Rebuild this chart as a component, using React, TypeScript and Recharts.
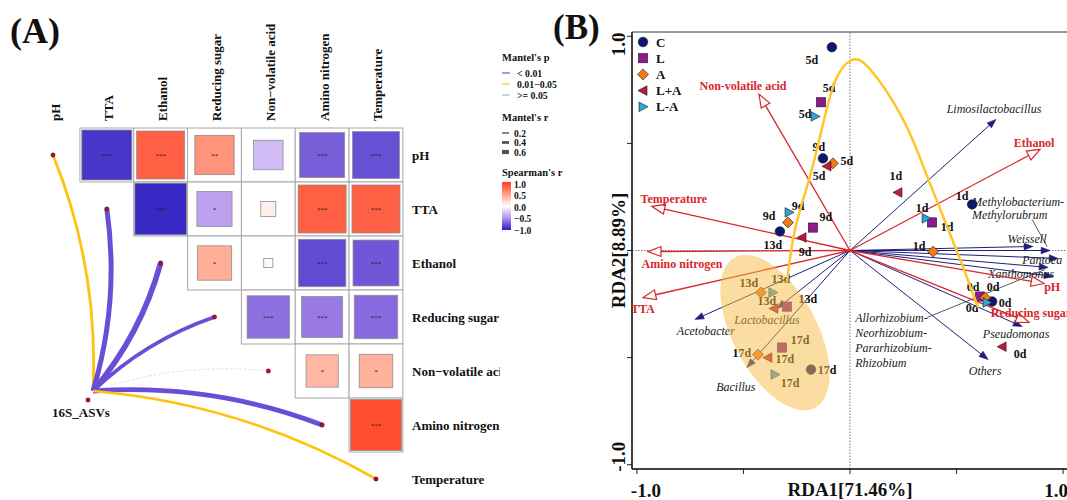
import React from 'react';
import { ScatterChart, Scatter, XAxis, YAxis, ReferenceLine, ReferenceArea, Legend } from 'recharts';

const SERIF = '"Liberation Serif", "Times New Roman", serif';

// ---------- Panel A: Mantel test + Spearman matrix ----------
const VARS = ['pH', 'TTA', 'Ethanol', 'Reducing sugar', 'Non\u2212volatile acid', 'Amino nitrogen', 'Temperature'];

// upper triangle, row i against columns i+1..6
const SPEARMAN_R = [
  [-0.89, 0.82, 0.55, -0.31, -0.72, -0.78],
  [-0.95, -0.44, 0.08, 0.82, 0.82],
  [0.42, 0.03, -0.8, -0.75],
  [-0.64, -0.6, -0.67],
  [0.37, 0.4],
  [0.92],
];
const SPEARMAN_SIG = [
  ['***', '***', '**', '', '***', '***'],
  ['***', '*', '', '***', '***'],
  ['*', '', '***', '***'],
  ['***', '***', '***'],
  ['*', '*'],
  ['***'],
];

const MANTEL_R = [0.28, 0.5, 0.56, 0.38, 0.02, 0.48, 0.26];
const MANTEL_P = ['0.01-0.05', '<0.01', '<0.01', '<0.01', '>=0.05', '<0.01', '0.01-0.05'];

const P_LEVELS = ['<0.01', '0.01-0.05', '>=0.05'];
const P_LABELS = ['< 0.01', '0.01\u22120.05', '>= 0.05'];
const R_KEYS = [0.2, 0.4, 0.6];
const SPEAR_TICKS = [1, 0.5, 0, -0.5, -1];

// ---------- Panel B: RDA ----------
const GROUPS = ['C', 'L', 'A', 'L+A', 'L-A'];
const DAYS = ['0d', '1d', '5d', '9d', '13d', '17d'];
const RDA1: Record<string, number[]> = {
  C: [0.667, 0.573, -0.085, -0.127, -0.329, -0.183],
  L: [0.61, 0.385, -0.136, -0.174, -0.296, -0.319],
  A: [0.634, 0.39, -0.08, -0.291, -0.418, -0.432],
  'L+A': [0.714, 0.225, -0.108, -0.225, -0.357, -0.385],
  'L-A': [0.643, 0.357, -0.164, -0.286, -0.362, -0.352],
};
const RDA2: Record<string, number[]> = {
  C: [-0.238, 0.215, 0.949, 0.43, 0.089, -0.556],
  L: [-0.215, 0.131, 0.692, 0.107, -0.262, -0.453],
  A: [-0.22, -0.005, 0.407, 0.131, -0.196, -0.486],
  'L+A': [-0.449, 0.271, 0.393, 0.061, -0.271, -0.5],
  'L-A': [-0.243, 0.15, 0.626, 0.178, -0.196, -0.579],
};

const ENV_NAMES = ['Non-volatile acid', 'Temperature', 'Amino nitrogen', 'TTA', 'Ethanol', 'pH', 'Reducing sugar'];
const ENV_RDA1 = [-0.427, -0.93, -0.948, -0.972, 0.892, 0.911, 0.84];
const ENV_RDA2 = [0.729, 0.206, -0.005, -0.22, 0.472, -0.154, -0.336];

const TAXA = [
  'Limosilactobacillus', 'Methylobacterium-Methylorubrum', 'Weissell', 'Pantoea', 'Xanthomonas',
  'Allorhizobium-Neorhizobium-Pararhizobium-Rhizobium', 'Pseudomonas', 'Others', 'Lactobacillus', 'Acetobacter', 'Bacillus',
];
const TAXA_RDA1 = [0.685, 0.939, 0.859, 0.977, 0.953, 0.93, 0.808, 0.648, -0.343, -0.728, -0.484];
const TAXA_RDA2 = [0.612, 0.0, 0.019, -0.037, -0.121, -0.079, -0.355, -0.509, -0.271, -0.322, -0.547];

// trajectory 13d -> 0d
const TRAJ_X = [-0.296, -0.258, -0.188, -0.127, -0.066, 0.005, 0.094, 0.249, 0.362, 0.493, 0.601];
const TRAJ_Y = [-0.15, 0.098, 0.346, 0.589, 0.799, 0.888, 0.846, 0.612, 0.346, 0.019, -0.266];

// late-stage cluster ellipse: center, end of major axis, end of minor axis
const ELLIPSE_X = [-0.352, -0.164, -0.178];
const ELLIPSE_Y = [-0.383, -0.734, -0.29];

// ---------- styles ----------
const P_COLOR: Record<string, string> = { '<0.01': '#6a4fd6', '0.01-0.05': '#ffc20e', '>=0.05': '#8fc7b8' };
const GROUP_COLOR: Record<string, string> = { C: '#0c176e', L: '#8e1a8e', A: '#ef7a16', 'L+A': '#c2183a', 'L-A': '#2ca6d8' };
const GROUP_SHAPE: Record<string, string> = { C: 'circle', L: 'square', A: 'diamond', 'L+A': 'left', 'L-A': 'right' };
const ENV_COLOR = '#d8262b';
const TAXA_COLOR = '#1f1f7a';

// day label offsets (px) per group, same order as DAYS
const DAY_LABEL_OFFSET: Record<string, number[][]> = {
  C: [[13, 2], [-10, -8], [-20, 13], [-4, -11], [-7, 14], [16, 0]],
  L: [[-7, -10], [15, 5], [8, -14], [13, -11], [21, -8], [18, -8]],
  A: [[8, -11], [-14, -6], [14, -2], [-19, -6], [-12, -9], [-16, -2]],
  'L+A': [[18, 7], [-2, -16], [-8, 10], [3, 15], [-7, -8], [17, 1]],
  'L-A': [[-15, 5], [-4, -10], [-10, -2], [9, -6], [8, -13], [15, 8]],
};

const ENV_LABEL: Record<string, number[]> = {
  'Non-volatile acid': [-16, -8],
  Temperature: [22, -7],
  'Amino nitrogen': [34, 12],
  TTA: [0, 11],
  Ethanol: [-6, -6],
  pH: [8, 4],
  'Reducing sugar': [2, -9],
};

type TaxLabel = { lines: string[]; dx: number; dy: number; step?: number; anchor?: string; leader?: number[] };
const TAXA_LABEL: Record<string, TaxLabel> = {
  Limosilactobacillus: { lines: ['Limosilactobacillus'], dx: -2, dy: -10 },
  'Methylobacterium-Methylorubrum': {
    lines: ['Methylobacterium-', 'Methylorubrum'], dx: -78, dy: -49, step: 13, anchor: 'start', leader: [-18, -31, -3, -4],
  },
  Weissell: { lines: ['Weissell'], dx: -6, dy: -7 },
  Pantoea: { lines: ['Pantoea'], dx: -16, dy: 2 },
  Xanthomonas: { lines: ['Xanthomonas'], dx: -32, dy: -2 },
  'Allorhizobium-Neorhizobium-Pararhizobium-Rhizobium': {
    lines: ['Allorhizobium-', 'Neorhizobium-', 'Pararhizobium-', 'Rhizobium'], dx: -193, dy: 51, step: 14.7, anchor: 'start',
    leader: [-121, 50, -3, 2],
  },
  Pseudomonas: { lines: ['Pseudomonas'], dx: -6, dy: 7 },
  Others: { lines: ['Others'], dx: -3, dy: 11 },
  Lactobacillus: { lines: ['Lactobacillus'], dx: -10, dy: 11 },
  Acetobacter: { lines: ['Acetobacter'], dx: 11, dy: 12 },
  Bacillus: { lines: ['Bacillus'], dx: -11, dy: 19 },
};

// ---------- helpers ----------
const R_STOPS: [number, string][] = [[-1, '#2a1cbf'], [-0.5, '#b592ee'], [0, '#ffffff'], [0.5, '#ff9e84'], [1, '#ff3d1f']];
function hex(c: string) {
  return [1, 3, 5].map((i) => parseInt(c.slice(i, i + 2), 16));
}
function spearColor(r: number) {
  for (let i = 0; i < R_STOPS.length - 1; i++) {
    const [a, ca] = R_STOPS[i];
    const [b, cb] = R_STOPS[i + 1];
    if (r >= a && r <= b) {
      const t = (r - a) / (b - a);
      const A = hex(ca), B = hex(cb);
      return `rgb(${A.map((v, k) => Math.round(v + (B[k] - v) * t)).join(',')})`;
    }
  }
  return r < 0 ? R_STOPS[0][1] : R_STOPS[R_STOPS.length - 1][1];
}
const mantelWidth = (r: number) => Math.max(r * 10, 0.7);

// panel A geometry: one matrix cell per unit
const A_W = 500, A_H = 500;
const COL_PX = 53.83, ROW_PX = 54, COL0 = 53, ROW0 = 155;
const ax = (px: number) => (px - COL0) / COL_PX;
const ay = (px: number) => (px - ROW0) / ROW_PX;
const A_XDOM = [ax(0), ax(A_W)];
const A_YDOM = [ay(0), ay(A_H)];
const HUB = { x: ax(93), y: ay(391) };
const HUB_DOT = { x: ax(88), y: ay(400) };

const cells: { x: number; y: number; r: number; sig: string }[] = [];
SPEARMAN_R.forEach((row, i) =>
  row.forEach((r, k) => cells.push({ x: i + 1 + k, y: i, r, sig: SPEARMAN_SIG[i][k] }))
);
const colLabels = VARS.map((v, i) => ({ x: i, y: ay(121), name: v }));
const rowLabels = VARS.map((v, i) => ({ x: ax(412), y: i, name: v }));

const B_XDOM = [-1.023, 1.023];
const B_YDOM = [-1.02, 1.02];
const B_TICKS = [-1, -0.5, 0, 0.5, 1];

const Empty = () => <g />;

const CellShape = (p: any) => {
  const { cx, cy, payload } = p;
  const s = Math.sqrt(Math.abs(payload.r)) * (ROW_PX - 1);
  return (
    <g>
      <rect x={cx - COL_PX / 2} y={cy - ROW_PX / 2} width={COL_PX} height={ROW_PX} fill="#fff" stroke="#a8a8a8" strokeWidth={1} />
      <rect x={cx - s / 2} y={cy - s / 2} width={s} height={s} fill={spearColor(payload.r)} stroke="#8e8e8e" strokeWidth={0.8} />
      {payload.sig ? (
        <text x={cx} y={cy + 3} textAnchor="middle" fontSize={7} fill="#222" fontFamily={SERIF}>
          {payload.sig}
        </text>
      ) : null}
    </g>
  );
};

function linkRenderer(i: number) {
  return (p: any) => {
    const pts = p.points;
    if (!pts || pts.length < 2) return <g />;
    const a = pts[0], b = pts[1];
    const dx = b.x - a.x, dy = b.y - a.y;
    const len = Math.hypot(dx, dy) || 1;
    let nx = -dy / len, ny = dx / len;
    // curves bow toward the matrix (up / right)
    if (nx - ny < 0) { nx = -nx; ny = -ny; }
    const k = 0.11 * len;
    const qx = (a.x + b.x) / 2 + nx * k, qy = (a.y + b.y) / 2 + ny * k;
    const lvl = MANTEL_P[i];
    const weak = lvl === '>=0.05';
    return (
      <path
        d={`M${a.x},${a.y}Q${qx},${qy} ${b.x},${b.y}`}
        fill="none"
        stroke={weak ? '#c9d2d0' : P_COLOR[lvl]}
        strokeWidth={mantelWidth(MANTEL_R[i])}
        strokeDasharray={weak ? '2.5 2' : undefined}
      />
    );
  };
}

const EndDot = (p: any) =>
  p.payload.end ? <circle cx={p.cx} cy={p.cy} r={2.2} fill="#a3103c" stroke="#5a0a20" strokeWidth={0.4} /> : <g />;

const HubShape = (p: any) => (
  <g>
    <circle cx={p.cx} cy={p.cy} r={2.2} fill="#a3103c" stroke="#5a0a20" strokeWidth={0.4} />
    <text x={p.cx - 7} y={p.cy + 17} textAnchor="middle" fontSize={13} fontWeight="bold" fontFamily={SERIF} fill="#111">
      16S_ASVs
    </text>
  </g>
);

const ColLabel = (p: any) => {
  const x = p.cx + 6.5, y = p.cy;
  return (
    <text x={x} y={y} transform={`rotate(-90 ${x} ${y})`} textAnchor="start" fontSize={13} fontWeight="bold" fontFamily={SERIF} fill="#111">
      {p.payload.name}
    </text>
  );
};
const RowLabel = (p: any) => (
  <text x={p.cx} y={p.cy + 4.5} textAnchor="start" fontSize={13} fontWeight="bold" fontFamily={SERIF} fill="#111">
    {p.payload.name}
  </text>
);

function MantelLegend() {
  const t = { fontFamily: SERIF, fontWeight: 'bold' as const, fill: '#111' };
  return (
    <svg width={80} height={190}>
      <defs>
        <linearGradient id="spearBar" x1="0" y1="0" x2="0" y2="1">
          {SPEAR_TICKS.map((v, i) => (
            <stop key={v} offset={i / (SPEAR_TICKS.length - 1)} stopColor={spearColor(v)} />
          ))}
        </linearGradient>
      </defs>
      <text x={4} y={13} fontSize={10.5} {...t}>Mantel's p</text>
      {P_LEVELS.map((lvl, i) => (
        <g key={lvl}>
          <line x1={4} x2={12} y1={25 + i * 11} y2={25 + i * 11} stroke={P_COLOR[lvl]} strokeWidth={1.2} />
          <text x={19} y={28.5 + i * 11} fontSize={9.8} {...t}>{P_LABELS[i]}</text>
        </g>
      ))}
      <text x={4} y={73} fontSize={10.5} {...t}>Mantel's r</text>
      {R_KEYS.map((r, i) => {
        const h = mantelWidth(r) * 0.7;
        return (
          <g key={r}>
            <rect x={4} y={85 + i * 9.5 - h / 2} width={7} height={h} fill="#555" />
            <text x={16} y={88.5 + i * 9.5} fontSize={9.5} {...t}>{r.toFixed(1)}</text>
          </g>
        );
      })}
      <text x={4} y={128} fontSize={10.5} {...t}>Spearman's r</text>
      <rect x={4} y={134} width={9} height={48} fill="url(#spearBar)" />
      {SPEAR_TICKS.map((v, i) => (
        <text key={v} x={16} y={139.5 + i * 11.5} fontSize={9.5} {...t}>
          {v.toFixed(1).replace('-', '\u2212')}
        </text>
      ))}
    </svg>
  );
}

// ---------- panel B renderers ----------
function Marker({ group, cx, cy }: { group: string; cx: number; cy: number }) {
  const st = { fill: GROUP_COLOR[group], stroke: '#1a1a1a', strokeWidth: 0.6 };
  switch (GROUP_SHAPE[group]) {
    case 'circle':
      return <circle cx={cx} cy={cy} r={4.8} {...st} />;
    case 'square':
      return <rect x={cx - 4.6} y={cy - 4.6} width={9.2} height={9.2} {...st} />;
    case 'diamond':
      return <polygon points={`${cx},${cy - 5.5} ${cx + 5.5},${cy} ${cx},${cy + 5.5} ${cx - 5.5},${cy}`} {...st} />;
    case 'left':
      return <polygon points={`${cx - 5},${cy} ${cx + 4},${cy - 4.8} ${cx + 4},${cy + 4.8}`} {...st} />;
    default:
      return <polygon points={`${cx + 5},${cy} ${cx - 4},${cy - 4.8} ${cx - 4},${cy + 4.8}`} {...st} />;
  }
}

const pointShape = (g: string) => (p: any) => {
  const { cx, cy, payload } = p;
  const off = DAY_LABEL_OFFSET[g][payload.idx];
  return (
    <g>
      <Marker group={g} cx={cx} cy={cy} />
      <text x={cx + off[0]} y={cy + off[1]} textAnchor="middle" dominantBaseline="central" fontSize={12} fontWeight="bold" fontFamily={SERIF} fill="#111">
        {payload.day}
      </text>
    </g>
  );
};

function arrowRenderer(kind: 'env' | 'taxon', name: string) {
  return (p: any) => {
    const pts = p.points;
    if (!pts || pts.length < 2) return <g />;
    const o = pts[0], t = pts[1];
    const dx = t.x - o.x, dy = t.y - o.y;
    const len = Math.hypot(dx, dy) || 1;
    const ux = dx / len, uy = dy / len;
    const env = kind === 'env';
    const hl = env ? 13 : 9, hw = env ? 5 : 3.3;
    const bx = t.x - ux * hl, by = t.y - uy * hl;
    const head = `${t.x},${t.y} ${bx - uy * hw},${by + ux * hw} ${bx + uy * hw},${by - ux * hw}`;
    const color = env ? ENV_COLOR : TAXA_COLOR;
    let label: React.ReactNode = null;
    if (env) {
      const off = ENV_LABEL[name];
      label = (
        <text x={t.x + off[0]} y={t.y + off[1]} textAnchor="middle" dominantBaseline="central" fontSize={12} fontWeight="bold" fontFamily={SERIF} fill={ENV_COLOR}>
          {name}
        </text>
      );
    } else {
      const L = TAXA_LABEL[name];
      label = (
        <g>
          {L.leader ? (
            <line x1={t.x + L.leader[0]} y1={t.y + L.leader[1]} x2={t.x + L.leader[2]} y2={t.y + L.leader[3]} stroke="#111" strokeWidth={0.7} />
          ) : null}
          {L.lines.map((s, i) => (
            <text key={s} x={t.x + L.dx} y={t.y + L.dy + i * (L.step || 0)} textAnchor={(L.anchor as any) || 'middle'} dominantBaseline="central" fontSize={12} fontStyle="italic" fontFamily={SERIF} fill="#1a1a1a">
              {s}
            </text>
          ))}
        </g>
      );
    }
    return (
      <g>
        <line x1={o.x} y1={o.y} x2={bx} y2={by} stroke={color} strokeWidth={env ? 1.3 : 1} />
        <polygon points={head} fill={env ? '#fff' : color} stroke={color} strokeWidth={env ? 1.2 : 0.6} />
        {label}
      </g>
    );
  };
}

const ellipseRenderer = (p: any) => {
  const pts = p.points;
  if (!pts || pts.length < 3) return <g />;
  const [c, a, b] = pts;
  const rx = Math.hypot(a.x - c.x, a.y - c.y);
  const ry = Math.hypot(b.x - c.x, b.y - c.y);
  const ang = (Math.atan2(a.y - c.y, a.x - c.x) * 180) / Math.PI;
  return <ellipse cx={c.x} cy={c.y} rx={rx} ry={ry} transform={`rotate(${ang} ${c.x} ${c.y})`} fill="#f7bb45" fillOpacity={0.5} stroke="none" />;
};

const XTick = (p: any) => {
  const { x, y, payload } = p;
  if (Math.abs(payload.value) !== 1) return <g />;
  const xx = payload.value < 0 ? x + 9 : x - 7;
  return (
    <text x={xx} y={y + 21} textAnchor="middle" fontSize={19} fontWeight="bold" fontFamily={SERIF} fill="#111">
      {payload.value.toFixed(1)}
    </text>
  );
};
const YTick = (p: any) => {
  const { x, y, payload } = p;
  if (Math.abs(payload.value) !== 1) return <g />;
  const yy = payload.value > 0 ? y + 8 : y - 8;
  return (
    <text x={x} y={yy} transform={`rotate(-90 ${x} ${yy})`} textAnchor="middle" fontSize={19} fontWeight="bold" fontFamily={SERIF} fill="#111">
      {payload.value.toFixed(1)}
    </text>
  );
};
const XTitle = (p: any) => {
  const vb = p.viewBox || {};
  const cx = (vb.x ?? 72) + (vb.width ?? 436) / 2;
  const y = (vb.y ?? 469) + 27;
  return (
    <text x={cx} y={y} textAnchor="middle" fontSize={19} fontWeight="bold" fontFamily={SERIF} fill="#111">
      RDA1[71.46%]
    </text>
  );
};
const YTitle = (p: any) => {
  const vb = p.viewBox || {};
  const x = (vb.x ?? 32) + (vb.width ?? 40) - 7;
  const y = (vb.y ?? 32) + (vb.height ?? 437) / 2;
  return (
    <text x={x} y={y} transform={`rotate(-90 ${x} ${y})`} textAnchor="middle" fontSize={19} fontWeight="bold" fontFamily={SERIF} fill="#111">
      RDA2[8.89%]
    </text>
  );
};

function GroupLegend() {
  return (
    <svg width={70} height={80}>
      {GROUPS.map((g, i) => (
        <g key={g}>
          <Marker group={g} cx={7} cy={8 + i * 16.2} />
          <text x={20} y={12.5 + i * 16.2} fontSize={13} fontWeight="bold" fontFamily={SERIF} fill="#111">
            {g}
          </text>
        </g>
      ))}
    </svg>
  );
}

export default function App() {
  const traj = TRAJ_X.map((x, i) => ({ x, y: TRAJ_Y[i] }));
  const ell = ELLIPSE_X.map((x, i) => ({ x, y: ELLIPSE_Y[i] }));
  return (
    <div style={{ position: 'absolute', left: 0, top: 0, width: 1067, height: 500, overflow: 'hidden', background: '#fff', fontFamily: SERIF }}>
      <div style={{ position: 'absolute', left: 0, top: 0 }}>
        <ScatterChart width={A_W} height={A_H} margin={{ top: 0, right: 0, bottom: 0, left: 0 }}>
          <XAxis type="number" dataKey="x" domain={A_XDOM} hide />
          <YAxis type="number" dataKey="y" domain={A_YDOM} reversed hide />
          {VARS.map((v, i) => (
            <Scatter
              key={v}
              data={[{ ...HUB, end: false }, { x: i, y: i, end: true }]}
              line={linkRenderer(i)}
              shape={EndDot}
              isAnimationActive={false}
            />
          ))}
          <Scatter data={[HUB_DOT]} shape={HubShape} isAnimationActive={false} />
          <Scatter data={cells} shape={CellShape} isAnimationActive={false} />
          <Scatter data={colLabels} shape={ColLabel} isAnimationActive={false} />
          <Scatter data={rowLabels} shape={RowLabel} isAnimationActive={false} />
          <Legend
            layout="vertical"
            align="center"
            verticalAlign="middle"
            content={<MantelLegend />}
            wrapperStyle={{ left: 498, top: 48, width: 80 }}
          />
        </ScatterChart>
      </div>

      <div style={{ position: 'absolute', left: 560, top: 0 }}>
        <ScatterChart width={520} height={500} margin={{ top: 32, right: 12, bottom: 0, left: 32 }}>
          <ReferenceArea x1={B_XDOM[0]} x2={B_XDOM[1]} y1={B_YDOM[0]} y2={B_YDOM[1]} fill="none" stroke="#333" strokeWidth={1} />
          <ReferenceLine x={0} stroke="#555" strokeWidth={0.8} strokeDasharray="1.5 1.5" />
          <ReferenceLine y={0} stroke="#555" strokeWidth={0.8} strokeDasharray="1.5 1.5" />
          <XAxis
            type="number"
            dataKey="x"
            domain={B_XDOM}
            ticks={B_TICKS}
            interval={0}
            tick={XTick}
            tickSize={5}
            tickLine={{ stroke: '#222' }}
            axisLine={{ stroke: '#222', strokeWidth: 1.5 }}
            height={31}
            label={XTitle}
          />
          <YAxis
            type="number"
            dataKey="y"
            domain={B_YDOM}
            ticks={B_TICKS}
            interval={0}
            tick={YTick}
            tickSize={5}
            tickLine={{ stroke: '#222' }}
            axisLine={{ stroke: '#222', strokeWidth: 1.5 }}
            width={40}
            label={YTitle}
          />
          {TAXA.map((n, i) => (
            <Scatter
              key={n}
              data={[{ x: 0, y: 0 }, { x: TAXA_RDA1[i], y: TAXA_RDA2[i] }]}
              line={arrowRenderer('taxon', n)}
              shape={Empty}
              isAnimationActive={false}
            />
          ))}
          {ENV_NAMES.map((n, i) => (
            <Scatter
              key={n}
              data={[{ x: 0, y: 0 }, { x: ENV_RDA1[i], y: ENV_RDA2[i] }]}
              line={arrowRenderer('env', n)}
              shape={Empty}
              isAnimationActive={false}
            />
          ))}
          {GROUPS.map((g) => (
            <Scatter
              key={g}
              name={g}
              data={DAYS.map((d, i) => ({ x: RDA1[g][i], y: RDA2[g][i], day: d, idx: i }))}
              shape={pointShape(g)}
              isAnimationActive={false}
            />
          ))}
          <Scatter data={ell} line={ellipseRenderer} shape={Empty} isAnimationActive={false} />
          <Scatter
            data={traj}
            line={{ stroke: '#ffc629', strokeWidth: 2.5 }}
            lineJointType="natural"
            shape={Empty}
            isAnimationActive={false}
          />
          <Legend
            layout="vertical"
            align="center"
            verticalAlign="middle"
            content={<GroupLegend />}
            wrapperStyle={{ left: 76, top: 34, width: 70 }}
          />
        </ScatterChart>
      </div>

      <svg width={1067} height={60} style={{ position: 'absolute', left: 0, top: 0, pointerEvents: 'none' }}>
        <text x={10} y={43} fontSize={36} fontWeight="bold" fontFamily={SERIF} fill="#111">(A)</text>
        <text x={553} y={39} fontSize={35} fontWeight="bold" fontFamily={SERIF} fill="#111">(B)</text>
      </svg>
    </div>
  );
}
